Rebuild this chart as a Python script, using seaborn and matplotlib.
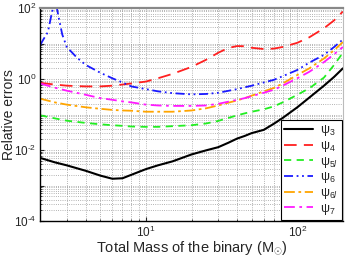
import numpy as np
import matplotlib
matplotlib.use("Agg")
import matplotlib.pyplot as plt
import matplotlib.ticker as mticker
import seaborn as sns

# valores (massa total em M_sun -> erro relativo)
mass = [2, 2.5, 3, 4, 5, 6, 7, 8, 10, 12, 15, 20, 25, 30, 35, 40, 45, 50,
        60, 70, 80, 100, 120, 150, 175, 200]
psi3 = [0.006, 0.0045, 0.0037, 0.0026, 0.0019, 0.00155, 0.0016, 0.002,
        0.0029, 0.0037, 0.0048, 0.0075, 0.0098, 0.012, 0.016, 0.021, 0.025,
        0.03, 0.037, 0.055, 0.08, 0.16, 0.3, 0.65, 1.15, 2.0]
psi4 = [0.78, 0.7, 0.65, 0.62, 0.62, 0.65, 0.7, 0.75, 0.85, 1.05, 1.4, 2.2,
        3.5, 5.5, 7.5, 8.5, 8.4, 7.6, 7.0, 7.2, 8.0, 10.5, 15, 27, 45, 80]
psi5l = [0.095, 0.078, 0.067, 0.058, 0.053, 0.05, 0.048, 0.046, 0.045, 0.045,
         0.047, 0.05, 0.056, 0.066, 0.08, 0.095, 0.108, 0.12, 0.14, 0.17,
         0.22, 0.36, 0.55, 1.1, 2.5, 5.5]
psi6_mass = [2, 2.1, 2.25, 2.4, 2.5, 2.55, 2.65, 2.8, 3, 3.5, 4, 5, 6, 7, 8,
             10, 12, 15, 20, 25, 30, 40, 50, 60, 70, 80, 100, 120, 150, 175,
             200]
psi6 = [9, 13, 21, 80, 130, 130, 55, 18, 8, 4, 2.5, 1.5, 1.05, 0.8, 0.62,
        0.52, 0.45, 0.4, 0.37, 0.38, 0.41, 0.52, 0.65, 0.8, 0.95, 1.2, 1.8,
        2.9, 4.8, 8, 13]
psi6l = [0.28, 0.22, 0.19, 0.16, 0.145, 0.135, 0.13, 0.128, 0.12, 0.12, 0.12,
         0.13, 0.15, 0.18, 0.215, 0.25, 0.29, 0.34, 0.45, 0.56, 0.75, 1.3,
         2.0, 3.8, 6.5, 11]
psi7 = [0.75, 0.57, 0.47, 0.36, 0.29, 0.26, 0.235, 0.22, 0.19, 0.18, 0.175,
        0.175, 0.18, 0.2, 0.23, 0.26, 0.29, 0.33, 0.41, 0.5, 0.65, 1.05, 1.6,
        3.0, 5.0, 8.0]

sns.set_style("ticks")
plt.rcParams['font.family'] = ['Liberation Sans', 'DejaVu Sans']
plt.rcParams['mathtext.fontset'] = 'custom'
plt.rcParams['mathtext.rm'] = 'Liberation Sans'
plt.rcParams['mathtext.it'] = 'Liberation Sans:italic'

fig = plt.figure(figsize=(3.46, 2.6), dpi=100)
ax = fig.add_axes([0.116, 0.15, 0.875, 0.819])

sns.lineplot(x=mass, y=psi3, ax=ax, color='black', lw=1.5, linestyle='-',
             label='ψ$_{3}$')
sns.lineplot(x=mass, y=psi4, ax=ax, color='#ff2020', lw=1.3,
             linestyle=(0, (7, 4)), label='ψ$_{4}$')
sns.lineplot(x=mass, y=psi5l, ax=ax, color='#22ee22', lw=1.3,
             linestyle=(0, (4, 3)), label='ψ$_{5l}$')
sns.lineplot(x=psi6_mass, y=psi6, ax=ax, color='#1a1aff', lw=1.3,
             linestyle=(0, (5, 2, 1, 2, 1, 2)), label='ψ$_{6}$')
sns.lineplot(x=mass, y=psi6l, ax=ax, color='#ffa500', lw=1.3,
             linestyle=(0, (6, 2, 1.5, 2)), label='ψ$_{6l}$')
sns.lineplot(x=mass, y=psi7, ax=ax, color='#ff1aff', lw=1.3,
             linestyle=(0, (6, 2.5, 1.5, 2.5)), label='ψ$_{7}$')

ax.set_xscale('log')
ax.set_yscale('log')
ax.set_xlim(2, 200)
ax.set_ylim(1e-4, 1e2)


def fmt_pot(v, pos):
    k = round(np.log10(v))
    if k % 2:
        return ''
    return r'$\mathdefault{10^{\text{%d}}}$' % k


ax.yaxis.set_major_locator(mticker.FixedLocator([10.0 ** k for k in range(-4, 3)]))
ax.yaxis.set_major_formatter(mticker.FuncFormatter(fmt_pot))
ax.yaxis.set_minor_locator(mticker.LogLocator(base=10, subs=np.arange(2, 10), numticks=20))
ax.yaxis.set_minor_formatter(mticker.NullFormatter())
ax.xaxis.set_minor_locator(mticker.LogLocator(base=10, subs=np.arange(2, 10), numticks=20))
ax.xaxis.set_minor_formatter(mticker.NullFormatter())

ax.grid(True, which='both', color='#9a9a9a', linestyle=':', lw=0.6)
ax.tick_params(which='both', direction='in', labelsize=8.5, top=False, right=False)
ax.tick_params(which='major', length=3, pad=2.5)
ax.tick_params(which='minor', length=1.5)

for s in ['left', 'bottom']:
    ax.spines[s].set_linewidth(1.0)
    ax.spines[s].set_color('black')
ax.spines['top'].set_color('#888888')
ax.spines['top'].set_linewidth(1.6)
ax.spines['right'].set_color('#bbbbbb')

ax.set_xlabel('Total Mass of the binary (M$_{\\odot}$)', fontsize=10.5, labelpad=0)
ax.set_ylabel('Relative errors', fontsize=10, va='baseline')
ax.yaxis.set_label_coords(-0.09, 0.5)

leg = ax.legend(loc='lower right', fontsize=9, fancybox=False, framealpha=1,
                edgecolor='black', handlelength=2.3, handletextpad=0.6,
                labelspacing=0.05, borderpad=0.25, borderaxespad=0.1)
leg.get_frame().set_linewidth(0.8)

fig.savefig('out.png', dpi=100)
